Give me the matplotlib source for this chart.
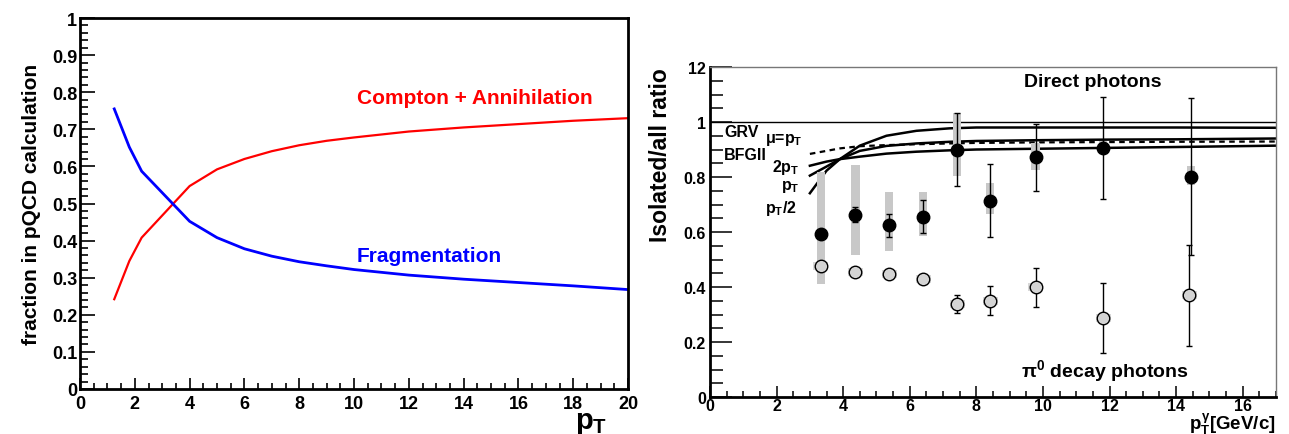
import numpy as np
import matplotlib
matplotlib.use('Agg')
import matplotlib.pyplot as plt
from matplotlib.ticker import MultipleLocator

plt.rcParams['font.family'] = ['Liberation Sans', 'DejaVu Sans']
plt.rcParams['font.weight'] = 'bold'
plt.rcParams['axes.labelweight'] = 'bold'
plt.rcParams['mathtext.fontset'] = 'custom'
plt.rcParams['mathtext.rm'] = 'Liberation Sans:bold'
plt.rcParams['mathtext.it'] = 'Liberation Sans:bold'
plt.rcParams['mathtext.bf'] = 'Liberation Sans:bold'

# ---- left panel: fractions in pQCD calculation
pt_frac = [1.25, 1.8, 2.25, 4, 5, 6, 7, 8, 9, 10, 12, 14, 16, 18, 20]
compton = [0.242, 0.345, 0.408, 0.547, 0.592, 0.620, 0.641, 0.657, 0.669, 0.678,
           0.694, 0.705, 0.714, 0.723, 0.730]
fragm = [0.755, 0.652, 0.587, 0.452, 0.408, 0.378, 0.358, 0.343, 0.332, 0.322,
         0.307, 0.296, 0.287, 0.278, 0.268]
left_yticks = [0, 0.1, 0.2, 0.3, 0.4, 0.5, 0.6, 0.7, 0.8, 0.9, 1]
left_ylabels = ['0', '0.1', '0.2', '0.3', '0.4', '0.5', '0.6', '0.7', '0.8', '0.9', '1']

# ---- right panel: isolated/all ratio
pt_dir = [3.33, 4.37, 5.38, 6.40, 7.42, 8.42, 9.78, 11.81, 14.45]
r_dir = [0.593, 0.661, 0.625, 0.656, 0.897, 0.714, 0.871, 0.907, 0.801]
dir_stat_lo = [0.593, 0.636, 0.581, 0.597, 0.766, 0.581, 0.750, 0.721, 0.515]
dir_stat_hi = [0.593, 0.690, 0.667, 0.718, 1.031, 0.847, 0.992, 1.092, 1.089]
dir_sys_lo = [0.41, 0.515, 0.531, 0.585, 0.802, 0.666, 0.826, 0.885, 0.77]
dir_sys_hi = [0.82, 0.842, 0.744, 0.744, 1.031, 0.778, 0.923, 0.93, 0.841]

pt_pi0 = [3.33, 4.37, 5.38, 6.40, 7.42, 8.42, 9.78, 11.81, 14.39]
r_pi0 = [0.476, 0.455, 0.446, 0.428, 0.338, 0.350, 0.400, 0.286, 0.370]
pi0_stat_lo = [0.476, 0.455, 0.446, 0.428, 0.305, 0.298, 0.329, 0.159, 0.187]
pi0_stat_hi = [0.476, 0.455, 0.446, 0.428, 0.370, 0.404, 0.470, 0.413, 0.552]
pi0_sys = [0.015, 0.015, 0.015, 0.015, 0.015, 0.015, 0.015, 0.015, 0.015]

pt_th = [3, 3.5, 3.9, 4.5, 5.3, 6.2, 7.2, 8, 10, 12, 14, 17]
th_half = [0.741, 0.823, 0.865, 0.914, 0.950, 0.968, 0.977, 0.980, 0.980, 0.980, 0.980, 0.979]
th_one = [0.805, 0.838, 0.865, 0.895, 0.913, 0.922, 0.928, 0.931, 0.934, 0.936, 0.937, 0.940]
th_two = [0.841, 0.856, 0.865, 0.874, 0.885, 0.892, 0.897, 0.900, 0.903, 0.906, 0.909, 0.914]
th_bfg = [0.884, 0.895, 0.904, 0.912, 0.916, 0.919, 0.922, 0.924, 0.926, 0.927, 0.928, 0.929]
right_yticks = [0, 0.2, 0.4, 0.6, 0.8, 1, 1.2]
right_ylabels = ['0', '0.2', '0.4', '0.6', '0.8', '1', '12']

fig = plt.figure(figsize=(12.89, 4.35), dpi=100)

# ================= left
ax1 = fig.add_axes([80/1289, 1-390/435, 548/1289, 371/435])
ax1.plot(pt_frac, compton, color='#ff0000', lw=1.6)
ax1.plot(pt_frac, fragm, color='#0000ff', lw=2.0)
ax1.set_xlim(0, 20)
ax1.set_ylim(0, 1)
ax1.set_xticks(range(0, 21, 2))
ax1.xaxis.set_minor_locator(MultipleLocator(0.5))
ax1.set_yticks(left_yticks)
ax1.set_yticklabels(left_ylabels)
ax1.yaxis.set_minor_locator(MultipleLocator(0.02))
ax1.tick_params(which='both', direction='in', top=False, right=False, width=1.2, labelsize=13)
ax1.tick_params(axis='y', which='major', length=11, pad=2)
ax1.tick_params(axis='y', which='minor', length=6)
ax1.tick_params(axis='x', which='major', length=8, pad=4)
ax1.tick_params(axis='x', which='minor', length=4)
for s in ax1.spines.values():
    s.set_linewidth(2)
ax1.text(10.1, 0.785, 'Compton + Annihilation', color='#ff0000', fontsize=15,
         fontweight='bold', va='center')
ax1.text(10.1, 0.36, 'Fragmentation', color='#0000ff', fontsize=15,
         fontweight='bold', va='center')
ax1.set_ylabel('fraction in pQCD calculation', fontsize=15, fontweight='bold', labelpad=8)
fig.text(607/1289, 1-429/435, r'$p_T$', fontsize=21, ha='right', va='baseline')

# ================= right
ax2 = fig.add_axes([710/1289, 1-398/435, 566/1289, 330/435])
ax2.axhline(1.0, color='black', lw=1)
ax2.plot(pt_th, th_half, color='black', lw=1.8)
ax2.plot(pt_th, th_one, color='black', lw=1.8)
ax2.plot(pt_th, th_two, color='black', lw=1.8)
ax2.plot(pt_th, th_bfg, color='black', lw=1.6, ls=(0, (2.5, 2)))

# systematic bands
dir_lo = np.array(dir_sys_lo)
dir_hi = np.array(dir_sys_hi)
ax2.bar(pt_dir, dir_hi - dir_lo, bottom=dir_lo, width=0.25, color='#c8c8c8', zorder=2)
ax2.bar(pt_pi0, 2*np.array(pi0_sys), bottom=np.array(r_pi0) - np.array(pi0_sys),
        width=0.45, color='#d8d8d8', zorder=2)

ax2.errorbar(pt_dir, r_dir,
             yerr=[np.array(r_dir) - np.array(dir_stat_lo), np.array(dir_stat_hi) - np.array(r_dir)],
             fmt='o', color='black', ms=9, elinewidth=1, capsize=2, zorder=4)
ax2.errorbar(pt_pi0, r_pi0,
             yerr=[np.array(r_pi0) - np.array(pi0_stat_lo), np.array(pi0_stat_hi) - np.array(r_pi0)],
             fmt='o', color='black', mfc='#d4d4d4', mec='black', mew=1.0, ms=9,
             elinewidth=1, capsize=2, zorder=4)

ax2.set_xlim(0, 17)
ax2.set_ylim(0, 1.2)
ax2.set_xticks(range(0, 17, 2))
ax2.xaxis.set_minor_locator(MultipleLocator(0.5))
ax2.set_yticks(right_yticks)
ax2.set_yticklabels(right_ylabels)
ax2.yaxis.set_minor_locator(MultipleLocator(0.05))
ax2.tick_params(which='both', direction='in', top=False, right=False, width=1.1, labelsize=11.5)
ax2.tick_params(axis='y', which='major', length=16, pad=3)
ax2.tick_params(axis='y', which='minor', length=9)
ax2.tick_params(axis='x', which='major', length=8, pad=1)
ax2.tick_params(axis='x', which='minor', length=4)
ax2.spines['left'].set_linewidth(2)
ax2.spines['bottom'].set_linewidth(2)
ax2.spines['top'].set_linewidth(1)
ax2.spines['right'].set_linewidth(1)
ax2.spines['top'].set_color('#777777')
ax2.spines['right'].set_color('#777777')

ax2.text(0.42, 0.965, 'GRV', fontsize=11.5, fontweight='bold', va='center')
ax2.text(0.42, 0.88, 'BFGII', fontsize=11.5, fontweight='bold', va='center')
ax2.text(1.65, 0.94, r'μ=$p_T$', fontsize=11.5, va='center')
ax2.text(2.68, 0.838, r'2$p_T$', fontsize=11.5, ha='right', va='center')
ax2.text(2.68, 0.766, r'$p_T$', fontsize=11.5, ha='right', va='center')
ax2.text(2.6, 0.688, r'$p_T$/2', fontsize=11.5, ha='right', va='center')
ax2.text(11.5, 1.148, 'Direct photons', fontsize=14, fontweight='bold', ha='center', va='center')
ax2.text(11.85, 0.097, r'π$^0$ decay photons', fontsize=14, fontweight='bold',
         ha='center', va='center')
ax2.set_ylabel('Isolated/all ratio', fontsize=16.5, fontweight='bold', loc='top', labelpad=8)
fig.text(1276/1289, 1-430/435, r'$p_T^\gamma$[GeV/c]', fontsize=13.5, fontweight='bold',
         ha='right', va='baseline')

fig.savefig('out.png', dpi=100)
